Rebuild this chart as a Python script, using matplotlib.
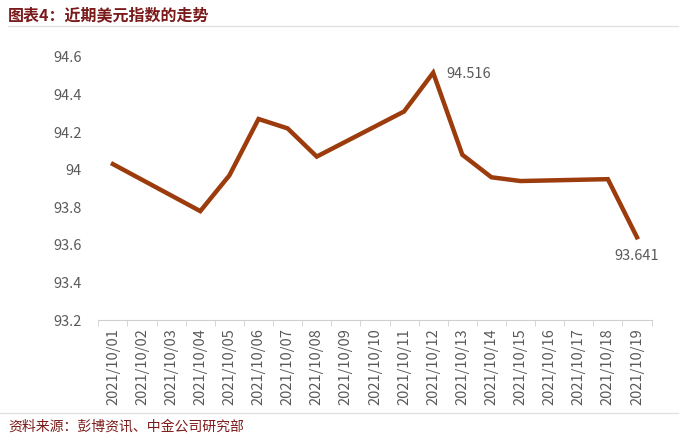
import numpy as np
import matplotlib.pyplot as plt

plt.rcParams['font.family'] = ['Noto Sans CJK SC', 'DejaVu Sans']

# 数据：2021/10/01 - 2021/10/19，周末无数据
dates = ["2021/10/%02d" % d for d in range(1, 20)]
dxy = [94.03, np.nan, np.nan, 93.78, 93.97, 94.27, 94.22, 94.07, np.nan, np.nan,
       94.31, 94.516, 94.08, 93.96, 93.94, np.nan, np.nan, 93.95, 93.641]

title = "图表4：近期美元指数的走势"
source = "资料来源：彭博资讯、中金公司研究部"

x = np.arange(len(dates))
y = np.array(dxy)
ok = ~np.isnan(y)

fig = plt.figure(figsize=(6.88, 4.38), dpi=100)
ax = fig.add_axes([0.143, 0.269, 0.804, 0.601])

ax.plot(x[ok], y[ok], color='#9c3b0c', lw=3.2, solid_joinstyle='miter')

ax.set_xlim(-0.5, len(dates) - 0.5)
ax.set_ylim(93.2, 94.6)
ax.set_yticks(np.arange(93.2, 94.61, 0.2))
ax.set_yticklabels(["93.2", "93.4", "93.6", "93.8", "94", "94.2", "94.4", "94.6"])
ax.set_xticks(x)
ax.set_xticklabels(dates, rotation=90)
ax.set_xticks(np.arange(-0.5, len(dates), 1), minor=True)

for s in ['top', 'right', 'left']:
    ax.spines[s].set_visible(False)
ax.spines['bottom'].set_color('#d0d0d0')
ax.tick_params(axis='y', length=0, pad=12, labelsize=10.5, labelcolor='#595959')
ax.tick_params(axis='x', which='major', length=0, pad=6, labelsize=10.5, labelcolor='#595959')
ax.tick_params(axis='x', which='minor', length=4, color='#d0d0d0')

# 数据标签
ax.text(x[11] + 0.45, y[11] - 0.005, "94.516", fontsize=10.5, color='#595959', va='center', ha='left')
ax.text(x[18], y[18] - 0.1, "93.641", fontsize=10.5, color='#595959', va='center', ha='center')

fig.text(0.012, 0.965, title, fontsize=11.5, fontweight='bold', color='#7a1a1a', va='center')
fig.text(0.012, 0.025, source, fontsize=10, color='#7a1a1a', va='center')
fig.add_artist(plt.Line2D([0.012, 0.985], [0.94, 0.94], color='#e3e3e3', lw=1))
fig.add_artist(plt.Line2D([0.0, 0.985], [0.057, 0.057], color='#e3e3e3', lw=1))

fig.savefig("out.png", dpi=100)
